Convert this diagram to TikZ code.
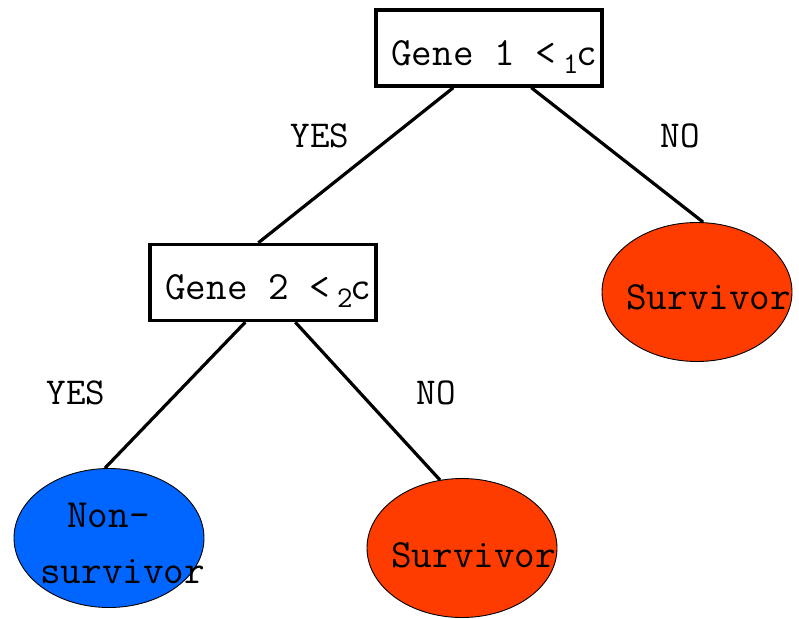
\documentclass[tikz,border=0pt]{standalone}
\usepackage{tikz}
\usetikzlibrary{shapes.geometric}
\definecolor{survred}{RGB}{255,60,0}
\definecolor{nonblue}{RGB}{0,102,255}
\begin{document}
\begin{tikzpicture}[x=1pt,y=-1pt,
  txt/.style={font=\ttfamily\fontsize{40}{55}\selectfont, inner sep=0pt, anchor=base west},
  lbl/.style={font=\ttfamily\fontsize{38}{46}\selectfont, inner sep=0pt, anchor=base},
  split/.style={draw, line width=3.4pt, minimum width=226pt, minimum height=76pt, inner sep=0pt},
  leaf/.style={ellipse, draw, line width=0.9pt, minimum width=190pt, minimum height=139pt, inner sep=0pt},
  conn/.style={line width=3.2pt}]
\useasboundingbox (0,0) rectangle (799,618);
% leaves
\node[leaf, fill=survred] (e1) at (697,292) {};
\node[leaf, fill=nonblue] (e2) at (109,538) {};
\node[leaf, fill=survred] (e3) at (462,548) {};
% splits
\node[split] (b1) at (489,48) {};
\node[split] (b2) at (263,282.5) {};
% texts
\node[txt] (t1) at (391,66) {Gene 1 <\hspace{7pt}\raisebox{-8pt}{\fontsize{30}{30}\selectfont 1}\hspace{-2pt}c};
\node[txt] (t2) at (165,299) {Gene 2 <\hspace{7pt}\raisebox{-8pt}{\fontsize{30}{30}\selectfont 2}\hspace{-2pt}c};
\node[txt] (t3) at (626,309) {Survivor};
\node[txt] (t4) at (391,567) {Survivor};
\node[txt] (t5) at (67,527) {Non-};
\node[txt] (t6) at (40,583) {survivor};
% connectors
\draw[conn] ([xshift=79pt]b1.south west) -- ([xshift=110pt]b2.north west);
\draw[conn] ([xshift=157pt]b1.south west) -- ([xshift=6pt]e1.north);
\draw[conn] ([xshift=97pt]b2.south west) -- ([xshift=-4pt]e2.north);
\draw[conn] ([xshift=147pt]b2.south west) -- ([xshift=-22pt,yshift=-2pt]e3.north);
% branch labels
\node[lbl] (y1) at (320,147) {YES};
\node[lbl] (n1) at (680,147) {NO};
\node[lbl] (y2) at (76,404) {YES};
\node[lbl] (n2) at (436,404) {NO};
\end{tikzpicture}
\end{document}
